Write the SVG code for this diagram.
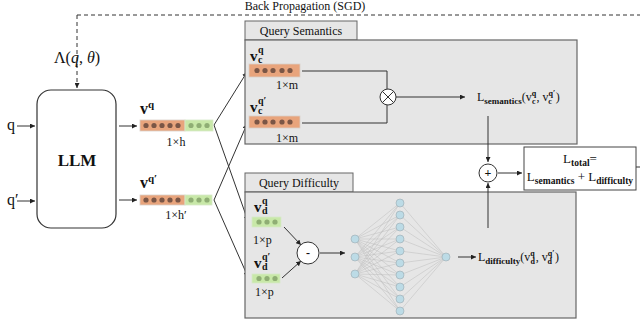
<svg xmlns="http://www.w3.org/2000/svg" width="640" height="325" viewBox="0 0 640 325">
<defs>
<marker id="ah" viewBox="0 0 6 6" refX="6" refY="3" markerWidth="5" markerHeight="5" orient="auto" markerUnits="userSpaceOnUse"><path d="M0,0 L6,3 L0,6 z" fill="#222"/></marker>
<style>
.t{font-family:"Liberation Serif","DejaVu Serif",serif;fill:#111}
.ln{stroke:#333;stroke-width:1;fill:none}
.panel{fill:#e6e6e6;stroke:#666;stroke-width:1.2}
.tab{fill:#e6e6e6;stroke:#666;stroke-width:1}
.or{fill:#e8a47c;stroke:#d9cfc8;stroke-width:0.8}
.gr{fill:#c8e8a8;stroke:#d6e8c8;stroke-width:0.8}
.od{fill:#7a5646}
.gd{fill:#8fae74}
.nn{fill:#bcdbe6;stroke:#9aaab0;stroke-width:0.6}
.nl{stroke:#bdbdbd;stroke-width:0.5}
.op{fill:#fff;stroke:#333;stroke-width:1}
.sb{font-size:9px;font-weight:bold}
.ss{font-size:8px;font-weight:bold}
</style>
</defs>

<g id="connectors">
<path class="ln" d="M77,15 H640" stroke-dasharray="4,3" stroke="#555"/>
<path class="ln" d="M77,15 V88" stroke-dasharray="4,3" marker-end="url(#ah)"/>
<path class="ln" d="M17,126 H35" marker-end="url(#ah)"/>
<path class="ln" d="M17,201 H35" marker-end="url(#ah)"/>
<path class="ln" d="M119,126 H137" marker-end="url(#ah)"/>
<path class="ln" d="M119,200 H137" marker-end="url(#ah)"/>
<path class="ln" d="M214,125 L247,72" marker-end="url(#ah)"/>
<path class="ln" d="M214,125 L248,221" marker-end="url(#ah)"/>
<path class="ln" d="M214,200 L247,124" marker-end="url(#ah)"/>
<path class="ln" d="M214,200 L248,277" marker-end="url(#ah)"/>
</g>

<g id="backprop-label">
<text class="t" x="305" y="10" font-size="12" text-anchor="middle">Back Propagation (SGD)</text>
<text class="t" x="77" y="63" font-size="16" text-anchor="middle" font-family="'DejaVu Serif','Liberation Serif',serif">Λ(<tspan font-style="italic">q</tspan>, <tspan font-style="italic">θ</tspan>)</text>
</g>

<g id="inputs">
<text class="t" x="7" y="130" font-size="16">q</text>
<text class="t" x="7" y="205" font-size="16">q′</text>
</g>

<g id="llm">
<rect x="37" y="90" width="79" height="138" rx="14" fill="#fff" stroke="#333" stroke-width="1.2"/>
<text class="t" x="77" y="166" font-size="17" font-weight="bold" text-anchor="middle">LLM</text>
</g>

<g id="vq">
<text class="t" x="140" y="114" font-size="16" font-weight="bold">v<tspan font-size="11" dy="-6">q</tspan></text>
<rect class="or" x="140" y="120" width="45" height="11"/>
<rect class="gr" x="185" y="120" width="28" height="11"/>
<g class="od"><circle cx="146" cy="125.5" r="2.6"/><circle cx="154" cy="125.5" r="2.6"/><circle cx="162" cy="125.5" r="2.6"/><circle cx="170" cy="125.5" r="2.6"/><circle cx="178" cy="125.5" r="2.6"/></g>
<g class="gd"><circle cx="191" cy="125.5" r="2.6"/><circle cx="199" cy="125.5" r="2.6"/><circle cx="207" cy="125.5" r="2.6"/></g>
<text class="t" x="176" y="146" font-size="12" text-anchor="middle">1×h</text>
</g>

<g id="vq2">
<text class="t" x="140" y="188" font-size="16" font-weight="bold">v<tspan font-size="11" dy="-6">q′</tspan></text>
<rect class="or" x="140" y="195" width="45" height="10"/>
<rect class="gr" x="185" y="195" width="27" height="10"/>
<g class="od"><circle cx="146" cy="200" r="2.6"/><circle cx="154" cy="200" r="2.6"/><circle cx="162" cy="200" r="2.6"/><circle cx="170" cy="200" r="2.6"/><circle cx="178" cy="200" r="2.6"/></g>
<g class="gd"><circle cx="191" cy="200" r="2.6"/><circle cx="199" cy="200" r="2.6"/><circle cx="207" cy="200" r="2.6"/></g>
<text class="t" x="176" y="219" font-size="12" text-anchor="middle">1×h′</text>
</g>

<g id="semantics-panel">
<rect class="tab" x="245" y="21" width="112" height="19"/>
<rect class="panel" x="245" y="40" width="332" height="104"/>
<text class="t" x="301" y="35" font-size="12" text-anchor="middle">Query Semantics</text>
<text class="t" x="250" y="61" font-size="15" font-weight="bold">v</text>
<text class="t" x="258" y="53" font-size="10" font-weight="bold">q</text>
<text class="t" x="258" y="63" font-size="10" font-weight="bold">c</text>
<rect class="or" x="249" y="64" width="51" height="13"/>
<g class="od"><circle cx="257" cy="70.5" r="2.6"/><circle cx="265" cy="70.5" r="2.6"/><circle cx="273" cy="70.5" r="2.6"/><circle cx="282" cy="70.5" r="2.6"/><circle cx="290" cy="70.5" r="2.6"/></g>
<text class="t" x="287" y="89" font-size="12" text-anchor="middle">1×m</text>
<text class="t" x="250" y="112" font-size="15" font-weight="bold">v</text>
<text class="t" x="258" y="104" font-size="10" font-weight="bold">q′</text>
<text class="t" x="258" y="114" font-size="10" font-weight="bold">c</text>
<rect class="or" x="249" y="116" width="51" height="12"/>
<g class="od"><circle cx="257" cy="122" r="2.6"/><circle cx="265" cy="122" r="2.6"/><circle cx="273" cy="122" r="2.6"/><circle cx="282" cy="122" r="2.6"/><circle cx="290" cy="122" r="2.6"/></g>
<text class="t" x="287" y="142" font-size="12" text-anchor="middle">1×m</text>
</g>

<g id="semantics-links">
<path class="ln" d="M302,71 H387 V89"/>
<path class="ln" d="M302,123 H387 V105"/>
<path class="ln" d="M396,97 H465" marker-end="url(#ah)"/>
<path class="ln" d="M488,116 V162" marker-end="url(#ah)"/>
</g>

<g id="multiply">
<circle class="op" cx="388" cy="97" r="8"/>
<path class="ln" d="M382.3,91.3 L393.7,102.7 M393.7,91.3 L382.3,102.7"/>
</g>

<g id="l-semantics">
<text class="t" x="477" y="101" font-size="12">L<tspan class="sb" dy="3">semantics</tspan><tspan dy="-3">(v</tspan><tspan class="ss" dy="-5">q</tspan><tspan class="ss" dx="-4.4" dy="8">c</tspan><tspan dy="-3" dx="1">, v</tspan><tspan class="ss" dy="-5">q′</tspan><tspan class="ss" dx="-7" dy="8">c</tspan><tspan dy="-3" dx="4">)</tspan></text>
</g>

<g id="difficulty-panel">
<rect class="tab" x="245" y="173" width="108" height="19"/>
<rect class="panel" x="245" y="192" width="331" height="126"/>
<text class="t" x="299" y="187" font-size="12" text-anchor="middle">Query Difficulty</text>
<text class="t" x="254" y="212" font-size="15" font-weight="bold">v</text>
<text class="t" x="262" y="204" font-size="10" font-weight="bold">q</text>
<text class="t" x="262" y="214" font-size="10" font-weight="bold">d</text>
<rect class="gr" x="252" y="217" width="29" height="10"/>
<g class="gd"><circle cx="259" cy="222" r="2.6"/><circle cx="267" cy="222" r="2.6"/><circle cx="275" cy="222" r="2.6"/></g>
<text class="t" x="253" y="244" font-size="12">1×p</text>
<text class="t" x="254" y="268" font-size="15" font-weight="bold">v</text>
<text class="t" x="262" y="260" font-size="10" font-weight="bold">q′</text>
<text class="t" x="262" y="270" font-size="10" font-weight="bold">d</text>
<rect class="gr" x="252" y="274" width="28" height="9"/>
<g class="gd"><circle cx="259" cy="278.5" r="2.6"/><circle cx="267" cy="278.5" r="2.6"/><circle cx="275" cy="278.5" r="2.6"/></g>
<text class="t" x="255" y="296" font-size="12">1×p</text>
</g>

<g id="difficulty-links">
<path class="ln" d="M284,227 L301,245" marker-end="url(#ah)"/>
<path class="ln" d="M282,278 L301,261" marker-end="url(#ah)"/>
<path class="ln" d="M320,253 H345" marker-end="url(#ah)"/>
<path class="ln" d="M458,257 H476" marker-end="url(#ah)"/>
<path class="ln" d="M488,228 V183" marker-end="url(#ah)"/>
<path class="ln" d="M498,173 H522" marker-end="url(#ah)"/>
<path class="ln" d="M636,167 H640"/>
</g>

<g id="minus">
<circle class="op" cx="308" cy="253" r="11"/>
<text class="t" x="308" y="257" font-size="12" font-weight="bold" text-anchor="middle">-</text>
</g>

<g id="neural-net">
<g class="nl">
<path d="M355,239 L400,203 M355,239 L400,215 M355,239 L400,227 M355,239 L400,239 M355,239 L400,251 M355,239 L400,263 M355,239 L400,275 M355,239 L400,287 M355,239 L400,299 M355,239 L400,311"/>
<path d="M355,257 L400,203 M355,257 L400,215 M355,257 L400,227 M355,257 L400,239 M355,257 L400,251 M355,257 L400,263 M355,257 L400,275 M355,257 L400,287 M355,257 L400,299 M355,257 L400,311"/>
<path d="M355,274 L400,203 M355,274 L400,215 M355,274 L400,227 M355,274 L400,239 M355,274 L400,251 M355,274 L400,263 M355,274 L400,275 M355,274 L400,287 M355,274 L400,299 M355,274 L400,311"/>
<path d="M446,257 L400,203 M446,257 L400,215 M446,257 L400,227 M446,257 L400,239 M446,257 L400,251 M446,257 L400,263 M446,257 L400,275 M446,257 L400,287 M446,257 L400,299 M446,257 L400,311"/>
</g>
<circle class="nn" cx="355" cy="239" r="4"/><circle class="nn" cx="355" cy="257" r="4"/><circle class="nn" cx="355" cy="274" r="4"/>
<circle class="nn" cx="400" cy="203" r="4"/><circle class="nn" cx="400" cy="215" r="4"/><circle class="nn" cx="400" cy="227" r="4"/><circle class="nn" cx="400" cy="239" r="4"/><circle class="nn" cx="400" cy="251" r="4"/><circle class="nn" cx="400" cy="263" r="4"/><circle class="nn" cx="400" cy="275" r="4"/><circle class="nn" cx="400" cy="287" r="4"/><circle class="nn" cx="400" cy="299" r="4"/><circle class="nn" cx="400" cy="311" r="4"/>
<circle class="nn" cx="446" cy="257" r="4"/>
</g>

<g id="l-difficulty">
<text class="t" x="478" y="261" font-size="12">L<tspan class="sb" dy="3">difficulty</tspan><tspan dy="-3">(v</tspan><tspan class="ss" dy="-5">q</tspan><tspan class="ss" dx="-4.4" dy="8">d</tspan><tspan dy="-3" dx="1">, v</tspan><tspan class="ss" dy="-5">q′</tspan><tspan class="ss" dx="-7" dy="8">d</tspan><tspan dy="-3" dx="3">)</tspan></text>
</g>

<g id="plus">
<circle class="op" cx="488" cy="173" r="9"/>
<text class="t" x="488" y="177" font-size="12" font-weight="bold" text-anchor="middle">+</text>
</g>

<g id="total">
<rect x="524" y="147" width="112" height="43" fill="#fff" stroke="#444" stroke-width="1"/>
<text class="t" x="580" y="163" font-size="13" text-anchor="middle">L<tspan font-size="9.5" font-weight="bold" dy="3">total</tspan><tspan dy="-3">=</tspan></text>
<text class="t" x="580" y="181" font-size="13" text-anchor="middle">L<tspan font-size="9.5" font-weight="bold" dy="3">semantics</tspan><tspan dy="-3"> + L</tspan><tspan font-size="9.5" font-weight="bold" dy="3">difficulty</tspan></text>
</g>
</svg>
